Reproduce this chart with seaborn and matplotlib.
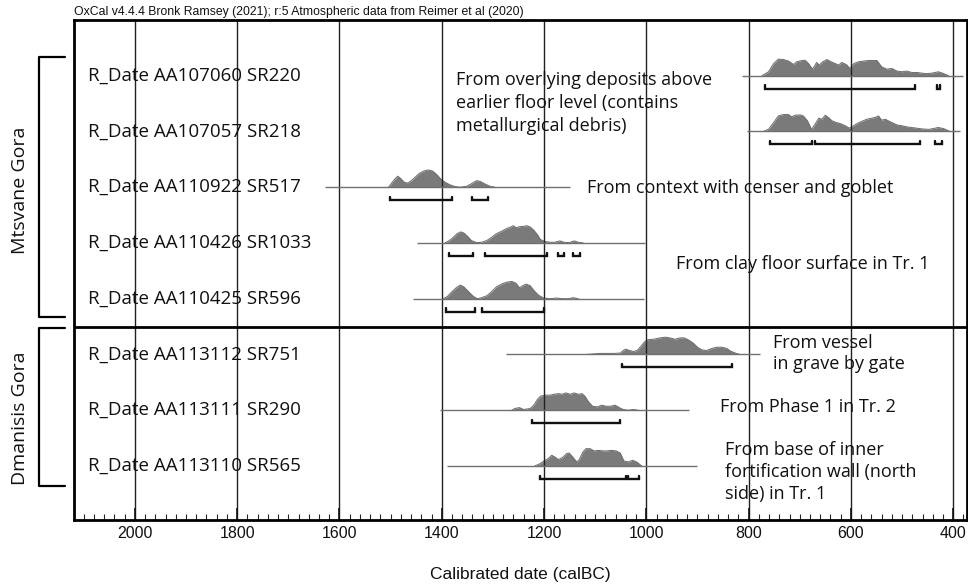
import matplotlib

matplotlib.use("Agg")
import matplotlib.pyplot as plt
import matplotlib.transforms as mtransforms
from matplotlib.ticker import MultipleLocator
import seaborn as sns

sns.set_theme(style="white")
plt.rcParams["font.family"] = ["Open Sans", "DejaVu Sans"]

TITLE = "OxCal v4.4.4 Bronk Ramsey (2021); r:5 Atmospheric data from Reimer et al (2020)"
XLABEL = "Calibrated date (calBC)"

LABELS = [
    "R_Date AA107060 SR220",
    "R_Date AA107057 SR218",
    "R_Date AA110922 SR517",
    "R_Date AA110426 SR1033",
    "R_Date AA110425 SR596",
    "R_Date AA113112 SR751",
    "R_Date AA113111 SR290",
    "R_Date AA113110 SR565",
]
GROUPS = ["Mtsvane Gora", "Dmanisis Gora"]

# extent of the thin base line of each row (calBC)
LINE_FROM = [813, 804, 1628, 1449, 1456, 1274, 1403, 1390]
LINE_TO = [380, 386, 1150, 1002, 1004, 777, 916, 900]

# posterior shapes (year, relative density)
SR220_YEARS = [774, 761, 751, 742, 732, 722, 712, 706, 696, 690, 683, 675, 667, 662,
               655, 647, 639, 631, 624, 618, 609, 602, 594, 585, 575, 566, 549, 540,
               530, 520, 510, 500, 491, 481, 471, 461, 452, 442, 429, 419, 409]
SR220_DENS = [0, 0.23, 0.71, 0.96, 0.94, 0.85, 0.65, 0.81, 0.88, 0.90, 0.71, 0.38, 0.77,
              0.62, 0.81, 0.94, 0.81, 0.71, 0.62, 0.77, 0.65, 0.42, 0.71, 0.81, 0.85,
              0.88, 0.88, 0.52, 0.38, 0.42, 0.27, 0.23, 0.27, 0.19, 0.19, 0.15, 0.12,
              0.15, 0.23, 0.13, 0]

SR218_YEARS = [771, 761, 751, 742, 732, 722, 716, 709, 699, 693, 685, 677, 670, 663,
               657, 650, 644, 637, 629, 621, 611, 603, 598, 588, 579, 569, 559, 553,
               546, 540, 533, 527, 520, 510, 500, 491, 481, 471, 461, 448, 439, 429,
               419, 406]
SR218_DENS = [0, 0.13, 0.52, 0.90, 0.98, 0.98, 0.85, 0.94, 0.96, 0.90, 0.62, 0.12, 0.42,
              0.77, 0.71, 0.94, 0.81, 0.62, 0.52, 0.46, 0.33, 0.19, 0.27, 0.46, 0.58,
              0.71, 0.77, 0.81, 0.90, 0.65, 0.71, 0.62, 0.52, 0.38, 0.33, 0.27, 0.23,
              0.19, 0.15, 0.12, 0.17, 0.23, 0.17, 0]

SR517_YEARS = [1504, 1498, 1491, 1486, 1480, 1474, 1467, 1461, 1452, 1444, 1435, 1426,
               1418, 1410, 1402, 1394, 1384, 1374, 1364, 1351, 1341, 1332, 1325, 1315,
               1306, 1296]
SR517_DENS = [0, 0.24, 0.50, 0.64, 0.50, 0.30, 0.24, 0.34, 0.58, 0.80, 0.94, 1.0, 0.94,
              0.74, 0.48, 0.30, 0.14, 0.04, 0, 0.06, 0.22, 0.38, 0.34, 0.18, 0.06, 0]

SR1033_YEARS = [1394, 1385, 1377, 1370, 1363, 1357, 1350, 1342, 1332, 1322, 1312, 1302,
                1293, 1283, 1273, 1267, 1260, 1255, 1248, 1240, 1234, 1227, 1220, 1213,
                1207, 1198, 1188, 1179, 1169, 1161, 1151, 1141, 1133, 1123]
SR1033_DENS = [0, 0.14, 0.34, 0.54, 0.64, 0.58, 0.40, 0.14, 0.02, 0.04, 0.14, 0.34, 0.54,
               0.68, 0.84, 0.90, 1.0, 0.88, 0.94, 0.96, 1.0, 0.92, 0.74, 0.48, 0.20,
               0.08, 0.04, 0.04, 0.12, 0.04, 0.02, 0.12, 0.04, 0]

SR596_YEARS = [1397, 1389, 1381, 1372, 1364, 1357, 1348, 1338, 1330, 1322, 1312, 1302,
               1293, 1283, 1273, 1263, 1255, 1248, 1242, 1235, 1227, 1220, 1211, 1201,
               1188, 1175, 1165, 1152, 1143, 1133]
SR596_DENS = [0, 0.13, 0.38, 0.63, 0.79, 0.69, 0.42, 0.13, 0, 0.06, 0.17, 0.42, 0.69,
              0.85, 0.96, 1.0, 0.90, 0.63, 0.75, 0.85, 0.75, 0.48, 0.21, 0.04, 0, 0.04,
              0, 0, 0.06, 0]

SR751_YEARS = [1117, 1091, 1064, 1051, 1045, 1040, 1033, 1025, 1018, 1011, 1004, 998,
               986, 973, 963, 954, 944, 934, 926, 918, 908, 900, 892, 882, 872, 862,
               853, 843, 835, 826, 817]
SR751_DENS = [0, 0.06, 0.06, 0.08, 0.23, 0.31, 0.23, 0.17, 0.23, 0.46, 0.71, 0.85, 0.88,
              0.96, 1.0, 0.96, 0.88, 0.96, 0.96, 0.85, 0.65, 0.42, 0.27, 0.23, 0.35,
              0.42, 0.42, 0.35, 0.19, 0.08, 0]

SR290_YEARS = [1263, 1257, 1248, 1240, 1227, 1220, 1213, 1207, 1198, 1188, 1181, 1172,
               1166, 1157, 1149, 1141, 1133, 1126, 1120, 1113, 1105, 1096, 1087, 1079,
               1070, 1061, 1053, 1045, 1035, 1025, 1016]
SR290_DENS = [0, 0.10, 0.15, 0.04, 0.10, 0.29, 0.62, 0.81, 0.87, 0.87, 0.92, 0.96, 0.92,
              1.0, 0.92, 1.0, 0.92, 0.96, 0.81, 0.48, 0.23, 0.19, 0.29, 0.23, 0.23,
              0.29, 0.15, 0.04, 0, 0.04, 0]

SR565_YEARS = [1218, 1208, 1200, 1192, 1185, 1179, 1172, 1164, 1156, 1151, 1144, 1136,
               1131, 1124, 1118, 1110, 1102, 1094, 1085, 1077, 1068, 1059, 1051, 1044,
               1035, 1027, 1019, 1009]
SR565_DENS = [0, 0.13, 0.29, 0.42, 0.62, 0.52, 0.37, 0.48, 0.71, 0.75, 0.52, 0.23, 0.37,
              0.81, 1.0, 1.0, 0.87, 0.90, 0.87, 0.87, 0.90, 0.87, 0.75, 0.29, 0.23,
              0.33, 0.23, 0]

# 95.4% ranges (from, to) calBC
SR220_RANGES = [(768, 474), (431, 426)]
SR218_RANGES = [(758, 677), (670, 465), (435, 422)]
SR517_RANGES = [(1501, 1379), (1341, 1309)]
SR1033_RANGES = [(1385, 1338), (1315, 1195), (1172, 1161), (1143, 1130)]
SR596_RANGES = [(1392, 1335), (1322, 1201)]
SR751_RANGES = [(1048, 832)]
SR290_RANGES = [(1224, 1051)]
SR565_RANGES = [(1208, 1040), (1035, 1014)]

YEARS = [SR220_YEARS, SR218_YEARS, SR517_YEARS, SR1033_YEARS,
         SR596_YEARS, SR751_YEARS, SR290_YEARS, SR565_YEARS]
DENS = [SR220_DENS, SR218_DENS, SR517_DENS, SR1033_DENS,
        SR596_DENS, SR751_DENS, SR290_DENS, SR565_DENS]
RANGES = [SR220_RANGES, SR218_RANGES, SR517_RANGES, SR1033_RANGES,
          SR596_RANGES, SR751_RANGES, SR290_RANGES, SR565_RANGES]

NOTES = [
    ("From overlying deposits above\nearlier floor level (contains\nmetallurgical debris)", 1372, 1.49, 1.37),
    ("From context with censer and goblet", 1116, 3.02, 1.2),
    ("From clay floor surface in Tr. 1", 942, 4.37, 1.2),
    ("From vessel\nin grave by gate", 752, 5.99, 1.2),
    ("From Phase 1 in Tr. 2", 856, 6.95, 1.2),
    ("From base of inner\nfortification wall (north\nside) in Tr. 1", 846, 8.11, 1.3),
]

FILL = "#7a7a7a"
PEAK = 0.31      # row units for a density of 1
DROP = 0.23      # range bar below the base line
HOOK = 0.055

fig = plt.figure(figsize=(9.68, 5.84), dpi=100)
ax = fig.add_axes([74 / 968, 1 - 520 / 584, 893 / 968, 500 / 584])

for i, label in enumerate(LABELS):
    row = i + 1
    ax.hlines(row, LINE_FROM[i], LINE_TO[i], color="#707070", lw=1.0, zorder=2)
    top = [row - d * PEAK for d in DENS[i]]
    ax.fill_between(YEARS[i], row, top, color=FILL, lw=0, zorder=1.1)
    sns.lineplot(x=YEARS[i], y=top, ax=ax, color="#6a6a6a", lw=0.7, sort=False,
                 estimator=None, zorder=1.2)
    yb = row + DROP
    for a, b in RANGES[i]:
        ax.plot([a, a, b, b], [yb - HOOK, yb, yb, yb - HOOK], color="#111111",
                lw=1.7, solid_joinstyle="miter", zorder=4)
    ax.text(2092, row, label, fontsize=13.5, va="center", ha="left", color="#111111")

for text, x, y, ls in NOTES:
    ax.text(x, y, text, fontsize=13, va="center", ha="left", linespacing=ls,
            color="#111111", zorder=5)

ax.axhline(5.5, color="black", lw=2, zorder=4)

ax.set_xlim(2119, 373)
ax.set_ylim(8.97, 0)
ax.set_yticks([])
ax.xaxis.set_major_locator(MultipleLocator(200))
ax.xaxis.set_minor_locator(MultipleLocator(20))
ax.tick_params(axis="x", which="major", direction="in", length=9, width=1.2,
               bottom=True, pad=4, labelsize=11.5, labelfontfamily="Liberation Sans",
               colors="#111111")
ax.tick_params(axis="x", which="minor", direction="in", length=4, width=0.8, bottom=True)
ax.set_axisbelow("line")
ax.grid(axis="x", which="major", color="#222222", lw=1.0)
for s in ax.spines.values():
    s.set_color("black")
    s.set_linewidth(2)
ax.set_xlabel(XLABEL, fontsize=12.5, family="Liberation Sans", labelpad=19,
              color="#111111")
ax.text(0, 1.003, TITLE, transform=ax.transAxes, fontsize=8.8, va="bottom", ha="left",
        family="Liberation Sans", color="#111111")

# group brackets on the left
tr = mtransforms.blended_transform_factory(ax.transAxes, ax.transData)
for (y0, y1), name, yc in zip([(0.67, 5.32), (5.53, 8.36)], GROUPS, [3.06, 7.15]):
    ax.plot([-0.0101, -0.0389, -0.0389, -0.0101], [y0, y0, y1, y1], color="black",
            lw=1.6, transform=tr, clip_on=False)
    ax.text(-0.0605, yc, name, rotation=90, fontsize=14, va="center", ha="center",
            transform=tr, color="#111111")

fig.savefig("out.png", dpi=100)
